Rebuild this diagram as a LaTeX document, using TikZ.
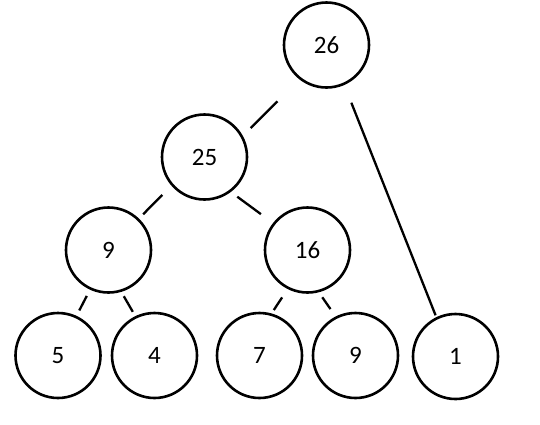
\documentclass[tikz,border=0pt]{standalone}
\usepackage{fontspec}
\setmainfont{Carlito}
\tikzset{
  heapnode/.style={circle,draw,line width=2.6pt,minimum size=85pt,inner sep=0pt,font=\fontsize{25}{25}\selectfont},
  link/.style={line width=2.3pt}
}

\begin{document}
\begin{tikzpicture}[x=1pt,y=-1pt]
  \useasboundingbox (0,0) rectangle (540,424);
  \node[heapnode] (top) at (326.5,45) {26};
  \node[heapnode] (left) at (204.5,157) {25};
  \node[heapnode] (leftleft) at (108.5,250) {9};
  \node[heapnode] (leftright) at (307.5,250) {16};
  \node[heapnode] (leaffive) at (58,355.5) {5};
  \node[heapnode] (leaffour) at (154.5,355.5) {4};
  \node[heapnode] (leafseven) at (259.5,355.5) {7};
  \node[heapnode] (leafnine) at (355.5,355.5) {9};
  \node[heapnode] (right) at (455.5,356.5) {1};
  \draw[link,shorten <=31pt,shorten >=11pt] (top.232) -- (left.29);
  \draw[link,shorten <=19pt,shorten >=2pt] (top.294.5) -- (right.116);
  \draw[link,shorten <=13pt,shorten >=6pt] (left.221.7) -- (leftleft.46.5);
  \draw[link,shorten <=8pt,shorten >=15pt] (left.307.3) -- (leftright.142.6);
  \draw[link,shorten <=7pt,shorten >=6pt] (leftleft.245.5) -- (leaffive.65.8);
  \draw[link,shorten <=5pt,shorten >=5pt] (leftleft.287.5) -- (leaffour.116.7);
  \draw[link,shorten <=10pt,shorten >=4pt] (leftright.243.6) -- (leafseven.74.7);
  \draw[link,shorten <=6pt,shorten >=9pt] (leftright.285) -- (leafnine.117.6);
\end{tikzpicture}
\end{document}
